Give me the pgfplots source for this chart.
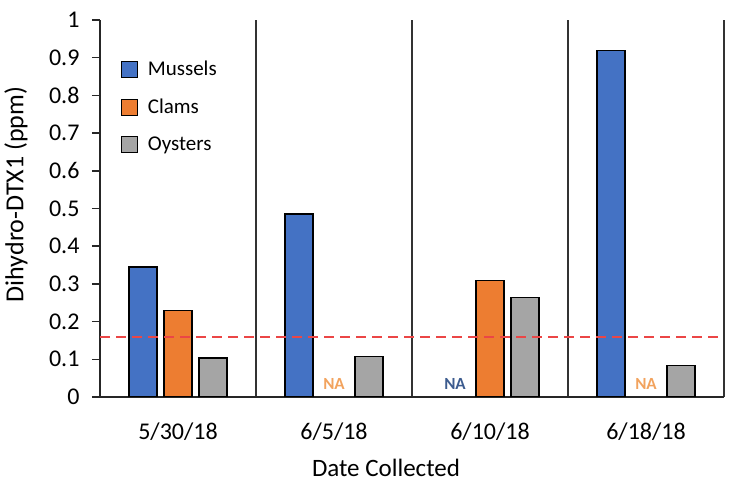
\documentclass[border=0pt]{standalone}
\usepackage{pgfplots}
\pgfplotsset{compat=1.18}
\usepackage{fontspec}
\setmainfont{Carlito}
\definecolor{cM}{HTML}{4472C4}
\definecolor{cC}{HTML}{ED7D31}
\definecolor{cO}{HTML}{A5A5A5}
\definecolor{naO}{HTML}{F2A35E}
\definecolor{naB}{HTML}{3D5C8F}
\begin{document}
\begin{tikzpicture}
\useasboundingbox (0,0) rectangle (738pt,487pt);
\begin{axis}[
  at={(100pt,90pt)}, anchor=south west,
  width=624pt, height=377pt, scale only axis,
  xmin=-0.5, xmax=3.5, ymin=0, ymax=1,
  xtick={0,1,2,3},
  xticklabels={5/30/18,6/5/18,6/10/18,6/18/18},
  major x tick style={draw=none},
  minor xtick={0.5,1.5,2.5,3.5},
  minor x tick style={draw=none},
  xminorgrids,
  minor grid style={black!80, line width=1.1pt},
  ytick={0,0.1,0.2,0.3,0.4,0.5,0.6,0.7,0.8,0.9,1},
  yticklabels={0,0.1,0.2,0.3,0.4,0.5,0.6,0.7,0.8,0.9,1},
  axis x line*=bottom, axis y line*=left,
  axis line style={line width=1.5pt, -, black!85},
  y tick style={line width=1.5pt, black!85},
  tick align=outside, major tick length=8pt,
  tick label style={font=\fontsize{24}{28}\selectfont},
  xticklabel style={anchor=center, yshift=-27pt},
  yticklabel style={xshift=-9pt},
  xlabel={Date Collected},
  ylabel={Dihydro-DTX1 (ppm)},
  xlabel style={font=\fontsize{25}{30}\selectfont, at={(axis description cs:0.5,0)}, anchor=center, yshift=-71pt, xshift=-26pt},
  ylabel style={font=\fontsize{26}{30}\selectfont, at={(axis description cs:0,0.5)}, anchor=center, yshift=84pt, xshift=14pt},
  legend style={at={(0.028,0.902)}, anchor=north west, draw=none, fill=none,
    font=\fontsize{21}{25}\selectfont, row sep=18pt,
    /tikz/every odd column/.append style={column sep=8pt}},
  legend image code/.code={\draw[#1, line width=1.2pt] (0pt,-8pt) rectangle (16pt,8pt);},
  legend cell align=left,
]
\addplot[ybar, bar width=28pt, bar shift=-35pt, fill=cM, draw=black, line width=1.5pt] coordinates {(0,0.345) (1,0.485) (3,0.919)};
\addlegendentry{Mussels}
\addplot[ybar, bar width=28pt, bar shift=0pt, fill=cC, draw=black, line width=1.5pt] coordinates {(0,0.230) (2,0.309)};
\addlegendentry{Clams}
\addplot[ybar, bar width=28pt, bar shift=35pt, fill=cO, draw=black, line width=1.5pt] coordinates {(0,0.103) (1,0.108) (2,0.264) (3,0.084)};
\addlegendentry{Oysters}
\addplot[sharp plot, red!70!white!92!black, line width=2pt, dashed, dash pattern=on 10pt off 6pt, mark=none, forget plot] table {
x y
-0.5 0.158
3.5 0.158
};
\node[font=\fontsize{17}{20}\selectfont\bfseries, text=naO] at (axis cs:1,0.035) {NA};
\node[font=\fontsize{17}{20}\selectfont\bfseries, text=naO] at (axis cs:3,0.035) {NA};
\node[font=\fontsize{17}{20}\selectfont\bfseries, text=naB, xshift=-35pt] at (axis cs:2,0.035) {NA};
\end{axis}
\end{tikzpicture}
\end{document}
